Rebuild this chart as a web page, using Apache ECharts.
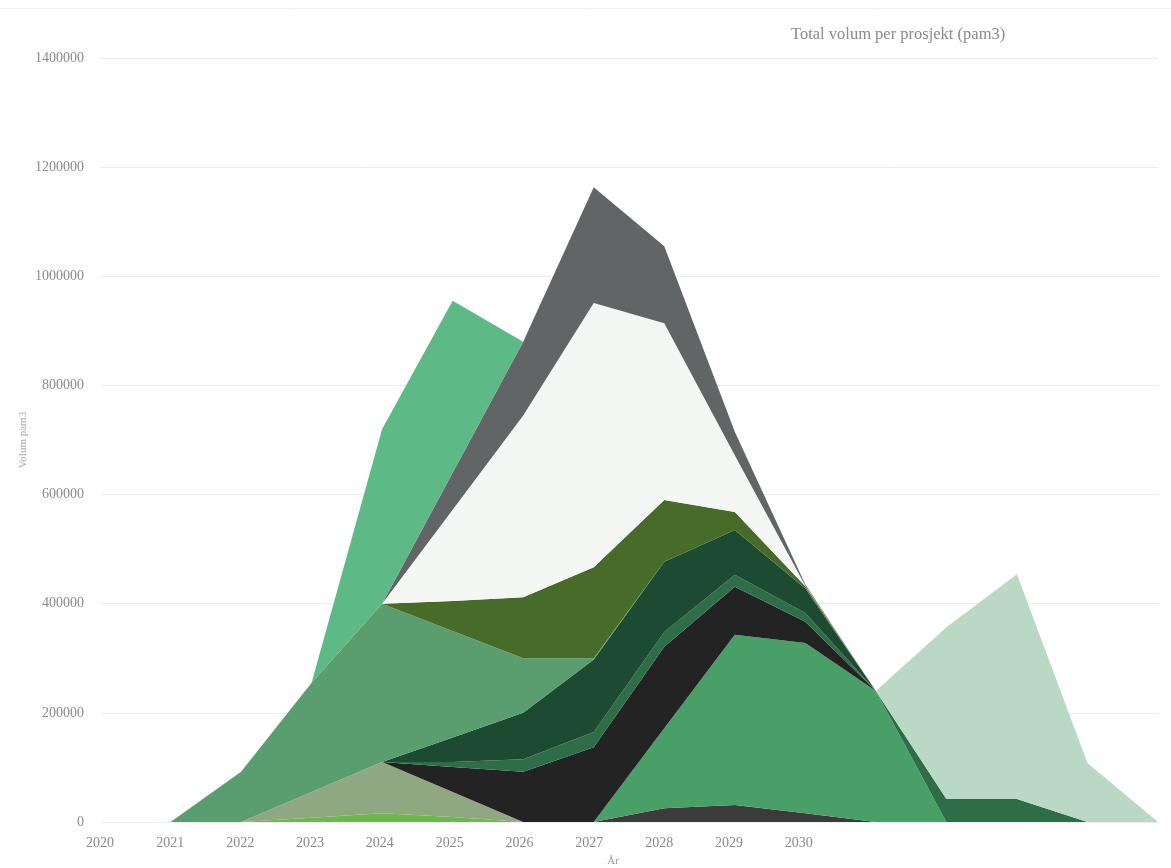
<!DOCTYPE html>
<html>
<head>
<meta charset="utf-8">
<script src="https://cdn.jsdelivr.net/npm/echarts@6/dist/echarts.min.js"></script>
<style>
  html, body { margin: 0; padding: 0; background: #ffffff; }
  #chart { width: 1171px; height: 868px; }
</style>
</head>
<body>
<div id="chart"></div>
<script>
// Years on the category axis; only 2020-2030 carry a visible label
const years = ['2020','2021','2022','2023','2024','2025','2026','2027','2028','2029','2030','2031','2032','2033','2034','2035'];
const xTickLabels = ['2020','2021','2022','2023','2024','2025','2026','2027','2028','2029','2030','','','','',''];
const yTicks = [0, 200000, 400000, 600000, 800000, 1000000, 1200000, 1400000];

// Yearly volume per project (pam3), listed in stacking order (bottom first)
const prosjektA = [0, 0, 0, 8000, 16000, 9000, 0, 0, 0, 0, 0, 0, 0, 0, 0, 0];
const prosjektB = [0, 0, 0, 47000, 94000, 46000, 0, 0, 0, 0, 0, 0, 0, 0, 0, 0];
const prosjektC = [0, 0, 0, 0, 0, 0, 0, 0, 25000, 31000, 16000, 0, 0, 0, 0, 0];
const prosjektD = [0, 0, 0, 0, 0, 0, 0, 0, 147000, 312000, 312000, 240000, 0, 0, 0, 0];
const prosjektE = [0, 0, 0, 0, 0, 46000, 92000, 137000, 149000, 88000, 39000, 0, 0, 0, 0, 0];
const prosjektF = [0, 0, 0, 0, 0, 9000, 23000, 28000, 27000, 22000, 16000, 0, 42000, 42000, 0, 0];
const prosjektG = [0, 0, 0, 0, 0, 45000, 85000, 133000, 129000, 82000, 45000, 0, 0, 0, 0, 0];
const prosjektH = [0, 0, 92000, 200000, 290000, 195000, 100000, 2000, 0, 0, 0, 0, 0, 0, 0, 0];
const prosjektI = [0, 0, 0, 0, 0, 55000, 112000, 167000, 113000, 33000, 4000, 0, 0, 0, 0, 0];
const prosjektJ = [0, 0, 0, 0, 0, 167000, 333000, 484000, 324000, 104000, 1000, 0, 0, 0, 0, 0];
const prosjektK = [0, 0, 0, 0, 0, 68000, 135000, 212000, 141000, 43000, 2000, 0, 0, 0, 0, 0];
const prosjektL = [0, 0, 0, 0, 320000, 315000, 0, 0, 0, 0, 0, 0, 0, 0, 0, 0];
const prosjektM = [0, 0, 0, 0, 0, 0, 0, 0, 0, 0, 0, 0, 315000, 412000, 108000, 0];

const seriesList = [
  { name: 'Prosjekt A', data: prosjektA, color: '#6db84b' },
  { name: 'Prosjekt B', data: prosjektB, color: '#8fa882' },
  { name: 'Prosjekt C', data: prosjektC, color: '#3b3b3b' },
  { name: 'Prosjekt D', data: prosjektD, color: '#48a067' },
  { name: 'Prosjekt E', data: prosjektE, color: '#232323' },
  { name: 'Prosjekt F', data: prosjektF, color: '#2d6d47' },
  { name: 'Prosjekt G', data: prosjektG, color: '#1c4b31' },
  { name: 'Prosjekt H', data: prosjektH, color: '#5a9e6f' },
  { name: 'Prosjekt I', data: prosjektI, color: '#476b29' },
  { name: 'Prosjekt J', data: prosjektJ, color: '#f4f6f3' },
  { name: 'Prosjekt K', data: prosjektK, color: '#626565' },
  { name: 'Prosjekt L', data: prosjektL, color: '#5db985' },
  { name: 'Prosjekt M', data: prosjektM, color: '#b9d9c4' }
];

const serif = '"Liberation Serif", "DejaVu Serif", serif';

// Year labels sit a little tighter than the category spacing: each label
// is nudged left by a small, growing amount (rich padding on the right).
const labelDrift = 0.7;
const xLabelRich = {};
xTickLabels.forEach((_, i) => {
  const shift = Math.max(0, labelDrift * i - 0.5);
  xLabelRich['y' + i] = { padding: [0, 2 * shift, 0, 0] };
});

const chart = echarts.init(document.getElementById('chart'), null, { renderer: 'canvas' });

chart.setOption({
  backgroundColor: '#ffffff',
  animation: false,
  title: {
    text: 'Total volum per prosjekt (pam3)',
    left: 786,
    top: 21,
    textStyle: { fontFamily: serif, fontSize: 16.5, fontWeight: 'normal', color: '#8a8a8a' }
  },
  graphic: [{
    type: 'line',
    shape: { x1: 0, y1: 8.5, x2: 1171, y2: 8.5 },
    style: { stroke: '#f0f0f0', lineWidth: 1 },
    silent: true
  }],
  grid: { left: 100, right: 13, top: 58, bottom: 46, outerBoundsMode: 'none' },
  xAxis: {
    type: 'category',
    data: years,
    boundaryGap: false,
    name: 'År',
    nameLocation: 'middle',
    nameGap: 34,
    nameMoveOverlap: false,
    nameTextStyle: { fontFamily: serif, fontSize: 11, color: '#999', padding: [0, 32, 0, 0] },
    axisLine: { show: false },
    axisTick: { show: false },
    splitLine: { show: false },
    axisLabel: {
      interval: 0,
      margin: 14,
      fontFamily: serif,
      fontSize: 14,
      color: '#8a8a8a',
      formatter: (v, i) => xTickLabels[i] ? '{y' + i + '|' + xTickLabels[i] + '}' : '',
      rich: xLabelRich
    }
  },
  yAxis: {
    type: 'value',
    min: yTicks[0],
    max: yTicks[yTicks.length - 1],
    interval: yTicks[1] - yTicks[0],
    name: 'Volum pam3',
    nameLocation: 'middle',
    nameGap: 71,
    nameMoveOverlap: false,
    nameTextStyle: { fontFamily: serif, fontSize: 11, color: '#aaa' },
    axisLine: { show: false },
    axisTick: { show: false },
    axisLabel: { margin: 16, fontFamily: serif, fontSize: 14, color: '#8a8a8a', formatter: v => String(v) },
    splitLine: { lineStyle: { color: '#ececec', width: 1 } }
  },
  series: seriesList.map(s => ({
    name: s.name,
    type: 'line',
    stack: 'volum',
    data: s.data,
    symbol: 'none',
    smooth: false,
    lineStyle: { width: 0 },
    areaStyle: { color: s.color, opacity: 1 },
    itemStyle: { color: s.color },
    emphasis: { disabled: true }
  }))
});
</script>
</body>
</html>
